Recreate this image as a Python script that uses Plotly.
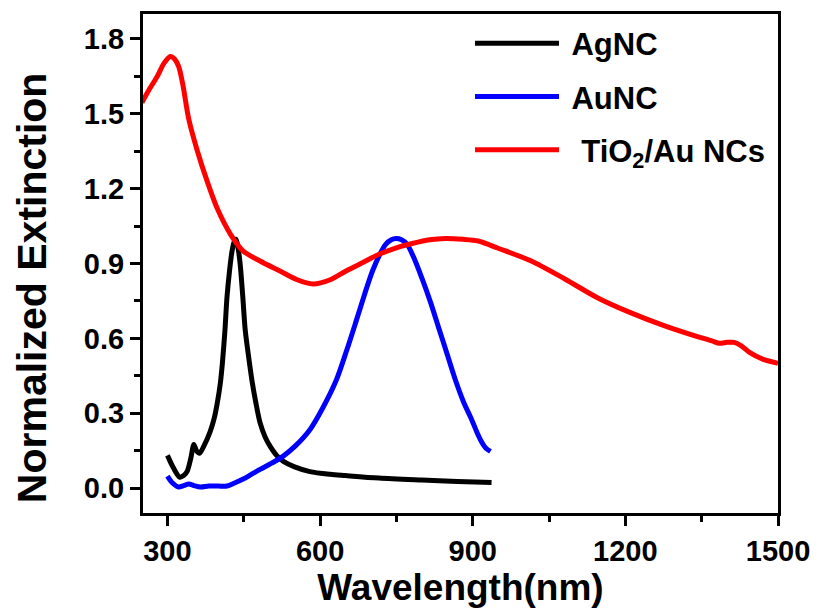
import plotly.graph_objects as go

# AgNC (black)
ag_x = [300, 312, 324, 332, 339, 346, 352, 357, 363, 372, 384, 392, 398, 404, 408, 413, 417, 422, 427, 431, 435, 439, 443, 448, 453, 460, 466, 474, 482, 492, 502, 515, 528, 550, 580, 620, 650, 716, 800, 870, 937]
ag_y = [0.131, 0.08, 0.044, 0.05, 0.068, 0.12, 0.175, 0.15, 0.139, 0.17, 0.226, 0.28, 0.341, 0.42, 0.50, 0.63, 0.763, 0.87, 0.95, 0.985, 0.997, 0.96, 0.897, 0.77, 0.631, 0.52, 0.433, 0.34, 0.262, 0.205, 0.167, 0.13, 0.107, 0.085, 0.066, 0.055, 0.05, 0.04, 0.032, 0.026, 0.022]

# AuNC (blue)
au_x = [300, 310, 322, 332, 342, 352, 365, 381, 400, 417, 432, 449, 465, 482, 505, 527, 552, 580, 605, 632, 652, 671, 688, 703, 717, 729, 740, 749, 760, 771, 785, 800, 817, 833, 850, 866, 882, 898, 908, 917, 926, 935]
au_y = [0.048, 0.02, 0.004, 0.01, 0.016, 0.01, 0.004, 0.008, 0.008, 0.008, 0.02, 0.036, 0.055, 0.075, 0.1, 0.127, 0.17, 0.234, 0.32, 0.433, 0.55, 0.67, 0.78, 0.87, 0.935, 0.977, 0.995, 1.0, 0.995, 0.977, 0.92, 0.842, 0.745, 0.643, 0.535, 0.433, 0.345, 0.274, 0.225, 0.187, 0.16, 0.147]

# TiO2/Au NCs (red)
ti_x = [250, 265, 280, 294, 306, 314, 322, 330, 342, 359, 378, 398, 424, 449, 482, 521, 555, 586, 620, 651, 685, 716, 750, 781, 815, 847, 880, 911, 950, 1015, 1081, 1145, 1210, 1276, 1340, 1370, 1385, 1400, 1414, 1428, 1444, 1471, 1500]
ti_y = [1.545, 1.6, 1.65, 1.705, 1.73, 1.72, 1.69, 1.62, 1.478, 1.35, 1.23, 1.12, 1.017, 0.95, 0.91, 0.87, 0.835, 0.818, 0.835, 0.87, 0.905, 0.937, 0.963, 0.98, 0.995, 1.0, 0.997, 0.99, 0.961, 0.91, 0.838, 0.763, 0.703, 0.651, 0.608, 0.59, 0.58, 0.584, 0.584, 0.57, 0.544, 0.516, 0.50]

x_ticks = [300, 600, 900, 1200, 1500]
y_ticks = [0.0, 0.3, 0.6, 0.9, 1.2, 1.5, 1.8]

FONT = "Liberation Sans"

fig = go.Figure()
fig.add_trace(go.Scatter(x=ag_x, y=ag_y, mode="lines", name=" AgNC", legendgroup="a",
                         line=dict(color="#000000", width=5, shape="spline", smoothing=0.8)))
fig.add_trace(go.Scatter(x=au_x, y=au_y, mode="lines", name=" AuNC", legendgroup="b",
                         line=dict(color="#0000ff", width=5, shape="spline", smoothing=0.8)))
fig.add_trace(go.Scatter(x=ti_x, y=ti_y, mode="lines", name="  TiO<sub>2</sub>/Au NCs", legendgroup="c",
                         line=dict(color="#ff0000", width=5, shape="spline", smoothing=0.8)))

tickfont = dict(family=FONT, size=29, color="black", weight="bold")

fig.update_layout(
    width=821, height=615,
    margin=dict(l=143, r=39, t=11, b=102),
    paper_bgcolor="white", plot_bgcolor="white",
    showlegend=True,
    legend=dict(x=0.515, y=0.995, xanchor="left", yanchor="top",
                font=dict(family=FONT, size=31, color="black", weight="bold"),
                itemwidth=84, tracegroupgap=10, bgcolor="rgba(0,0,0,0)"),
    xaxis=dict(range=[252, 1500], tickvals=x_ticks, ticks="outside", ticklen=10, tickwidth=3,
               tickcolor="black", showline=True, linewidth=3, linecolor="black", mirror=True,
               showgrid=False, zeroline=False, tickfont=tickfont,
               minor=dict(dtick=150, tick0=0, ticks="outside", ticklen=6, tickwidth=3, tickcolor="black", showgrid=False),
               title=dict(text="Wavelength(nm)", standoff=8,
                          font=dict(family=FONT, size=37, color="black", weight="bold"))),
    yaxis=dict(range=[-0.1, 1.9], tickvals=y_ticks, tickformat=".1f", ticks="outside", ticklen=10, tickwidth=3,
               tickcolor="black", showline=True, linewidth=3, linecolor="black", mirror=True,
               showgrid=False, zeroline=False, tickfont=tickfont,
               minor=dict(dtick=0.15, tick0=0, ticks="outside", ticklen=6, tickwidth=3, tickcolor="black", showgrid=False)),
    annotations=[dict(text="Normalized Extinction", textangle=-90, showarrow=False,
                      xref="paper", yref="paper", x=-0.1737, y=0.452, xanchor="center", yanchor="middle",
                      font=dict(family=FONT, size=41, color="black", weight="bold"))],
)

fig.write_html("out.html")
